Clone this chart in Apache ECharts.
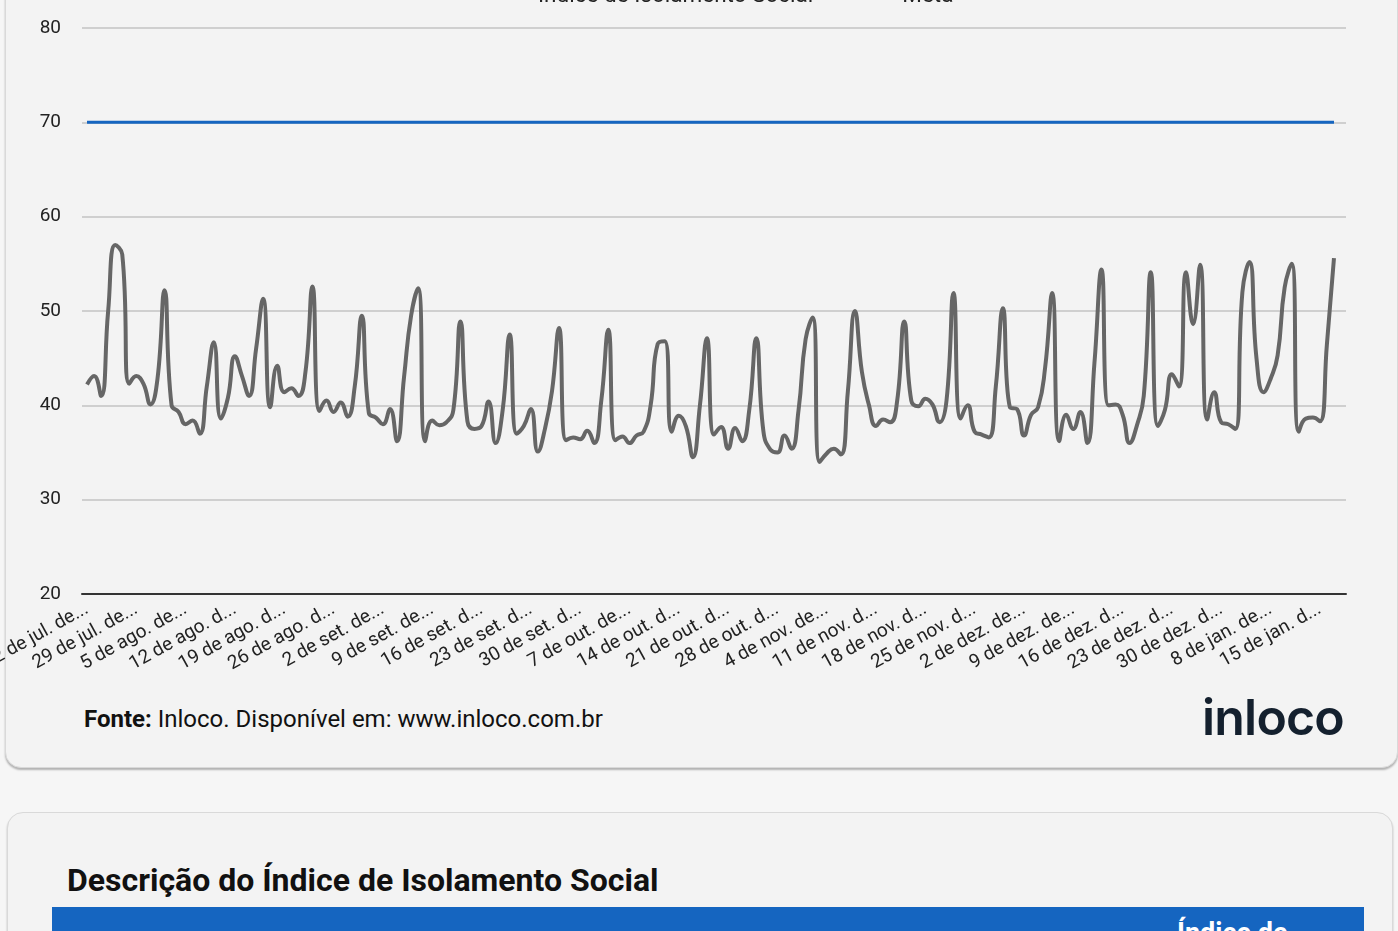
<!DOCTYPE html>
<html lang="pt-BR">
<head>
<meta charset="utf-8">
<title>Índice de Isolamento Social</title>
<script src="https://cdn.jsdelivr.net/npm/echarts@6/dist/echarts.min.js"></script>
<style>
  html, body { margin: 0; padding: 0; }
  body {
    width: 1398px; height: 931px; overflow: hidden; position: relative;
    background: #f6f6f6; font-family: Roboto, "Noto Sans", sans-serif;
  }
  .card {
    position: absolute; background: #f3f3f3; border-radius: 16px;
    box-shadow: 0 2px 2px rgba(0,0,0,0.28);
    border: 1px solid #d9d9d9;
  }
  #card1 { left: 5px; top: -60px; width: 1391px; height: 826px; }
  #card2 { left: 7px; top: 812px; width: 1384px; height: 300px; }
  #myChart { position: absolute; left: 0; top: 0; width: 1398px; height: 690px; }
  #fonte {
    position: absolute; left: 84px; top: 705px; font-size: 24px; color: #111;
  }
  #logo {
    position: absolute; left: 1200px; top: 687px; width: 144px; text-align: right;
    font-family: Inter, "Noto Sans", sans-serif; font-weight: 600;
    font-size: 50px; color: #14202e; letter-spacing: -0.8px;
  }
  #titulo {
    position: absolute; left: 67px; top: 861px; font-size: 32px;
    font-weight: bold; color: #111;
  }
  #faixa {
    position: absolute; left: 52px; top: 907px; width: 1312px; height: 60px;
    background: #1565c0;
  }
  #faixa span {
    position: absolute; left: 1125px; top: 10px; color: #fff;
    font-weight: bold; font-size: 27px;
  }
</style>
</head>
<body>
<div class="card" id="card1"></div>
<div class="card" id="card2"></div>
<div id="myChart"></div>
<div id="fonte"><b>Fonte:</b> Inloco. Disponível em: www.inloco.com.br</div>
<div id="logo">inloco</div>
<div id="titulo">Descrição do Índice de Isolamento Social</div>
<div id="faixa"><span>Índice de</span></div>
<script>
// meses abreviados
const meses = ['jan.', 'fev.', 'mar.', 'abr.', 'mai.', 'jun.', 'jul.', 'ago.', 'set.', 'out.', 'nov.', 'dez.'];
// dias sem dado
const diasFaltando = ['2020-12-31', '2021-01-01'];

// datas: 22/07/2020 ate 17/01/2021
const datas = [];
for (let d = new Date(Date.UTC(2020, 6, 22)); d <= new Date(Date.UTC(2021, 0, 17)); d.setUTCDate(d.getUTCDate() + 1)) {
  if (diasFaltando.indexOf(d.toISOString().slice(0, 10)) >= 0) continue;
  datas.push(d.getUTCDate() + ' de ' + meses[d.getUTCMonth()] + ' de ' + d.getUTCFullYear());
}

const isolamento = [
  42.2, 43.1, 41.0, 50.0, 57.0, 56.0, 42.3, 43.1, 42.3, 40.1,
  42.8, 52.2, 40.0, 39.3, 38.0, 38.4, 37.0, 42.0, 46.7, 38.6,
  40.8, 45.2, 43.1, 41.0, 46.0, 51.3, 39.8, 44.2, 41.4, 41.8,
  41.0, 43.5, 52.6, 39.4, 40.5, 39.3, 40.3, 38.8, 42.0, 49.5,
  39.2, 38.7, 38.0, 39.6, 36.2, 43.0, 49.5, 52.4, 36.2, 38.4,
  37.9, 38.2, 39.5, 48.9, 38.3, 37.5, 37.8, 40.4, 36.0, 39.5,
  47.5, 37.0, 37.8, 39.6, 35.1, 37.5, 41.5, 48.2, 36.3, 36.6,
  36.4, 37.3, 36.0, 40.5, 48.0, 36.3, 36.7, 36.0, 36.8, 37.2,
  40.0, 46.5, 46.8, 37.2, 38.9, 37.8, 34.5, 40.0, 47.1, 36.9,
  37.7, 35.4, 37.6, 36.2, 39.5, 47.1, 37.3, 35.3, 35.0, 36.8,
  35.4, 39.5, 47.0, 49.3, 34.0, 34.9, 35.4, 34.8, 41.5, 50.0,
  43.5, 40.0, 37.8, 38.5, 38.2, 40.5, 48.9, 40.5, 39.9, 40.7,
  40.1, 38.2, 40.5, 51.9, 38.6, 40.0, 37.2, 36.9, 36.6, 42.0,
  50.3, 39.8, 39.6, 36.8, 39.0, 39.8, 44.0, 51.9, 36.2, 39.0,
  37.5, 39.3, 36.0, 44.5, 54.4, 40.0, 40.1, 39.0, 36.0, 37.8,
  41.0, 54.1, 37.8, 39.5, 43.3, 42.0, 54.1, 48.6, 54.9, 38.5,
  41.4, 38.2, 38.0, 37.5, 52.0, 55.2, 45.0, 41.4, 42.8, 45.3,
  52.5, 55.0, 37.2, 38.6, 38.7, 38.3, 46.5, 55.6
];
const meta = datas.map(() => 70);

const yTicks = {min: 20, max: 80, interval: 10};

const fonte = 'Roboto';
const larguraRotulo = 123;

// corta o rotulo e tira o espaco antes das reticencias
function cortaRotulo(texto) {
  if (echarts.format && echarts.format.truncateText) {
    let t = echarts.format.truncateText(texto, larguraRotulo, '19px ' + fonte, '...');
    return t.replace(/\s+\.\.\.$/, '...');
  }
  return texto;
}

let option = {
  animation: false,
  legend: {
    top: -20,
    left: 498,
    icon: 'rect',
    itemWidth: 30,
    itemHeight: 3,
    itemGap: 54,
    textStyle: {fontFamily: fonte, fontSize: 22.5, color: '#222'},
    data: ['Índice de Isolamento Social', 'Meta']
  },
  grid: [
    // moldura: linhas de grade e eixo
    {left: 82, right: 52, top: 28, bottom: 96, outerBoundsMode: 'none'},
    // dados
    {left: 83.5, right: 60.5, top: 28, bottom: 96, outerBoundsMode: 'none'}
  ],
  xAxis: [
    {
      gridIndex: 0, type: 'value', min: 0, max: 1,
      axisLine: {show: true, onZero: false, lineStyle: {color: '#333', width: 2}},
      axisTick: {show: false}, axisLabel: {show: false}, splitLine: {show: false}
    },
    {
      gridIndex: 1, type: 'category', data: datas, boundaryGap: true,
      axisLine: {show: false}, axisTick: {show: false},
      axisLabel: {
        interval: 6, rotate: 29, margin: 14,
        fontFamily: fonte, fontSize: 19, color: '#222',
        formatter: cortaRotulo
      }
    }
  ],
  yAxis: [
    {
      gridIndex: 0, type: 'value', min: yTicks.min, max: yTicks.max, interval: yTicks.interval,
      axisLine: {show: false}, axisTick: {show: false},
      axisLabel: {fontFamily: fonte, fontSize: 19, color: '#222', margin: 21},
      splitLine: {lineStyle: {color: '#cfcfcf', width: 2}}
    },
    {
      gridIndex: 1, type: 'value', min: yTicks.min, max: yTicks.max, interval: yTicks.interval,
      show: false, splitLine: {show: false}
    }
  ],
  series: [
    {
      name: 'Índice de Isolamento Social',
      type: 'line', xAxisIndex: 1, yAxisIndex: 1,
      data: isolamento, smooth: 0.5, symbol: 'none',
      lineStyle: {color: '#666666', width: 4},
      itemStyle: {color: '#666666'}
    },
    {
      name: 'Meta',
      type: 'line', xAxisIndex: 1, yAxisIndex: 1,
      data: meta, symbol: 'none',
      lineStyle: {color: '#1565c0', width: 3},
      itemStyle: {color: '#1565c0'}
    }
  ]
};
let myChart = echarts.init(document.getElementById('myChart'), null, {renderer: 'canvas'});
myChart.setOption(option);
</script>
</body>
</html>
